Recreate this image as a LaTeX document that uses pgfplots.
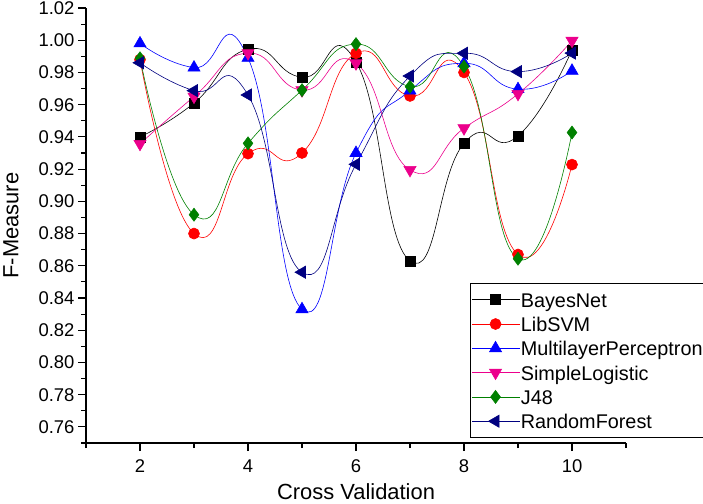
\documentclass[border=0pt]{standalone}
\usepackage{pgfplots}
\pgfplotsset{compat=1.18}
\usepackage{fontspec}
\setmainfont{Liberation Sans}
\definecolor{mgreen}{RGB}{0,128,0}
\definecolor{mnavy}{RGB}{0,0,128}
\begin{document}
\begin{tikzpicture}
\begin{axis}[
  scale only axis,
  width=540bp, height=435bp,
  xmin=1, xmax=11, ymin=0.75, ymax=1.02,
  axis x line*=bottom, axis y line*=left,
  axis line style={line width=1.2pt, -},
  xtick={2,4,6,8,10}, minor xtick={1,3,5,7,9,11},
  ytick={0.76,0.78,...,1.021}, minor ytick={0.75,0.77,...,1.015},
  tick align=outside,
  major tick length=8bp, minor tick length=5bp,
  tick style={line width=1.1pt, black},
  /pgf/number format/assume math mode=true,
  yticklabel style={/pgf/number format/fixed,/pgf/number format/fixed zerofill,/pgf/number format/precision=2},
  xticklabel style={yshift=-5bp},
  tick label style={font=\fontsize{18.5}{20}\selectfont},
  xlabel={Cross Validation}, ylabel={F-Measure},
  every axis x label/.style={at={(axis description cs:0.5,-0.1126)}, anchor=center, inner sep=0pt, font=\fontsize{22}{24}\selectfont},
  every axis y label/.style={at={(axis description cs:-0.1389,0.5)}, rotate=90, anchor=center, inner sep=0pt, font=\fontsize{22}{24}\selectfont},
  legend cell align=left,
  legend style={at={(0.711,0.368)}, anchor=north west, font=\fontsize{19.9}{22}\selectfont, draw=black, line width=0.6pt, inner xsep=1.5bp, inner ysep=3.5bp, row sep=-1.7bp, nodes={inner sep=1.5bp, text height=19bp, text depth=4bp}},
  legend image code/.code={\draw[mark repeat=2,mark phase=2] plot coordinates {(0bp,0bp) (23.5bp,0bp) (47bp,0bp)};},
  every axis plot/.append style={smooth, tension=0.9, line width=0.6pt},
]
\addplot[black, mark=square*, mark size=5bp, mark options={solid}] coordinates {
(2,0.940) (3,0.961) (4,0.9944) (5,0.977) (6,0.9865) (7,0.863) (8,0.936) (9,0.9406) (10,0.994)};
\addlegendentry{BayesNet}
\addplot[red, mark=*, mark size=5.5bp] coordinates {
(2,0.988) (3,0.880) (4,0.9296) (5,0.930) (6,0.9919) (7,0.9654) (8,0.980) (9,0.867) (10,0.9228)};
\addlegendentry{LibSVM}
\addplot[blue, mark=triangle*, mark size=7bp] coordinates {
(2,0.998) (3,0.983) (4,0.989) (5,0.833) (6,0.930) (7,0.9687) (8,0.9857) (9,0.9696) (10,0.981)};
\addlegendentry{MultilayerPerceptron}
\addplot[magenta, mark=triangle*, mark size=7bp, mark options={rotate=180}] coordinates {
(2,0.9357) (3,0.965) (4,0.992) (5,0.969) (6,0.9857) (7,0.9195) (8,0.9454) (9,0.9667) (10,0.9997)};
\addlegendentry{SimpleLogistic}
\addplot[mgreen, mark=diamond*, mark size=6.5bp] coordinates {
(2,0.9888) (3,0.8917) (4,0.936) (5,0.969) (6,0.9976) (7,0.9712) (8,0.9836) (9,0.8644) (10,0.9427)};
\addlegendentry{J48}
\addplot[mnavy, mark=triangle*, mark size=7bp, mark options={rotate=90}] coordinates {
(2,0.986) (3,0.9687) (4,0.966) (5,0.856) (6,0.923) (7,0.9778) (8,0.9919) (9,0.9805) (10,0.992)};
\addlegendentry{RandomForest}
\end{axis}
\pgfresetboundingbox
\useasboundingbox (-86bp,-61bp) rectangle (617bp,443bp);
\end{tikzpicture}
\end{document}
